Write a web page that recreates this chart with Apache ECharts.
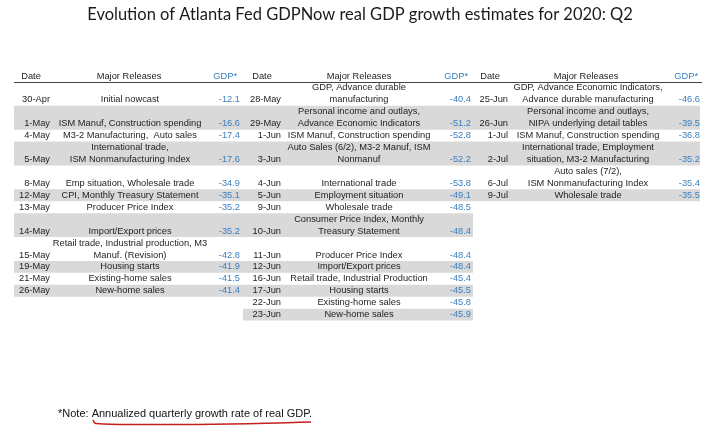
<!DOCTYPE html>
<html><head><meta charset="utf-8">
<script src="https://cdn.jsdelivr.net/npm/echarts@6/dist/echarts.min.js"></script>
<style>html,body{margin:0;padding:0;background:#fff}#c{width:720px;height:428px}</style>
</head><body><div id="c"></div>
<script>
const titleText = 'Evolution of Atlanta Fed GDPNow real GDP growth estimates for 2020: Q2';
const headers = ['Date', 'Major Releases', 'GDP*'];
const rowLines = [2, 2, 1, 2, 2, 1, 1, 2, 2, 1, 1, 1, 1, 1];

const dates1 = ['30-Apr', '1-May', '4-May', '5-May', '8-May', '12-May', '13-May', '14-May', '15-May', '19-May', '21-May', '26-May'];
const releases1 = [['', 'Initial nowcast'], ['', 'ISM Manuf, Construction spending'], ['M3-2 Manufacturing,  Auto sales'], ['International trade,', 'ISM Nonmanufacturing Index'], ['', 'Emp situation, Wholesale trade'], ['CPI, Monthly Treasury Statement'], ['Producer Price Index'], ['', 'Import/Export prices'], ['Retail trade, Industrial production, M3', 'Manuf. (Revision)'], ['Housing starts'], ['Existing-home sales'], ['New-home sales']];
const gdp1 = [-12.1, -16.6, -17.4, -17.6, -34.9, -35.1, -35.2, -35.2, -42.8, -41.9, -41.5, -41.4];

const dates2 = ['28-May', '29-May', '1-Jun', '3-Jun', '4-Jun', '5-Jun', '9-Jun', '10-Jun', '11-Jun', '12-Jun', '16-Jun', '17-Jun', '22-Jun', '23-Jun'];
const releases2 = [['GDP, Advance durable', 'manufacturing'], ['Personal income and outlays,', 'Advance Economic Indicators'], ['ISM Manuf, Construction spending'], ['Auto Sales (6/2), M3-2 Manuf, ISM', 'Nonmanuf'], ['', 'International trade'], ['Employment situation'], ['Wholesale trade'], ['Consumer Price Index, Monthly', 'Treasury Statement'], ['', 'Producer Price Index'], ['Import/Export prices'], ['Retail trade, Industrial Production'], ['Housing starts'], ['Existing-home sales'], ['New-home sales']];
const gdp2 = [-40.4, -51.2, -52.8, -52.2, -53.8, -49.1, -48.5, -48.4, -48.4, -48.4, -45.4, -45.5, -45.8, -45.9];

const dates3 = ['25-Jun', '26-Jun', '1-Jul', '2-Jul', '6-Jul', '9-Jul'];
const releases3 = [['GDP, Advance Economic Indicators,', 'Advance durable manufacturing'], ['Personal income and outlays,', 'NIPA underlying detail tables'], ['ISM Manuf, Construction spending'], ['International trade, Employment', 'situation, M3-2 Manufacturing'], ['Auto sales (7/2),', 'ISM Nonmanufacturing Index'], ['Wholesale trade']];
const gdp3 = [-46.6, -39.5, -36.8, -35.2, -35.4, -35.5];

const noteText = '*Note: Annualized quarterly growth rate of real GDP.';

// ---- layout (kept separate from data) ----
const cols = [
  { dates: dates1, rel: releases1, gdp: gdp1, left: 14, right: 243, dateX: 50, relX: 130, gdpX: 240, hDate: 31, hRel: 129, hGdp: 237 },
  { dates: dates2, rel: releases2, gdp: gdp2, left: 243, right: 473, dateX: 281, relX: 359, gdpX: 471, hDate: 262, hRel: 359, hGdp: 468 },
  { dates: dates3, rel: releases3, gdp: gdp3, left: 473, right: 700, dateX: 508, relX: 588, gdpX: 700, hDate: 490, hRel: 586, hGdp: 698 }
];
const rowStart = [];
rowLines.reduce((acc, n, i) => { rowStart[i] = acc; return acc + n; }, 0);

const FONT = "'Liberation Sans', Arial, sans-serif";
const FS = 9.3;
const TXT = '#1e1e1e';
const BLUE = '#3a7fc1';
const GRAY = '#d9d9d9';

const cellData = [];
cols.forEach((c, ci) => c.dates.forEach((d, ri) => cellData.push([ci, ri])));

function txt(x, y, s, align, fill) {
  return { type: 'text', style: { x, y, text: s, align, verticalAlign: 'middle', fontSize: FS, fontFamily: FONT, fill } };
}

const chart = echarts.init(document.getElementById('c'), null, { renderer: 'canvas' });
chart.setOption({
  backgroundColor: '#fff',
  animation: false,
  title: {
    text: titleText, left: 'center', top: 1,
    textStyle: { fontFamily: "Lato, 'Open Sans', sans-serif", fontWeight: 'normal', fontSize: 16.5, color: '#1a1a1a' }
  },
  grid: { left: 0, right: 0, top: 70, height: 360 },
  xAxis: { type: 'value', min: 0, max: 720, show: false },
  yAxis: { type: 'value', min: -1, max: 29, inverse: true, show: false },
  series: [
    {
      type: 'custom', coordinateSystem: 'cartesian2d', silent: true,
      data: cellData,
      renderItem: function (params, api) {
        const ci = api.value(0), ri = api.value(1);
        const c = cols[ci];
        const s = rowStart[ri], n = rowLines[ri];
        const children = [];
        if (ri % 2 === 1) {
          const p0 = api.coord([c.left, s]), p1 = api.coord([c.right, s + n]);
          children.push({ type: 'rect', shape: { x: p0[0], y: p0[1], width: p1[0] - p0[0], height: p1[1] - p0[1] }, style: { fill: GRAY } });
        }
        const yb = api.coord([0, s + n - 0.5])[1];
        const yt = api.coord([0, s + 0.5])[1];
        children.push(txt(api.coord([c.dateX, 0])[0], yb, c.dates[ri], 'right', TXT));
        const r = c.rel[ri];
        if (r.length === 2) {
          if (r[0]) children.push(txt(api.coord([c.relX, 0])[0], yt, r[0], 'center', TXT));
          children.push(txt(api.coord([c.relX, 0])[0], yb, r[1], 'center', TXT));
        } else {
          children.push(txt(api.coord([c.relX, 0])[0], yb, r[0], 'center', TXT));
        }
        children.push(txt(api.coord([c.gdpX, 0])[0], yb, c.gdp[ri].toFixed(1), 'right', BLUE));
        return { type: 'group', children };
      }
    },
    {
      type: 'custom', coordinateSystem: 'cartesian2d', silent: true,
      data: [[0], [1], [2]],
      renderItem: function (params, api) {
        const ci = api.value(0);
        const c = cols[ci];
        const y = api.coord([0, -0.45])[1];
        const children = [
          txt(api.coord([c.hDate, 0])[0], y, headers[0], 'center', TXT),
          txt(api.coord([c.hRel, 0])[0], y, headers[1], 'center', TXT),
          txt(api.coord([c.hGdp, 0])[0], y, headers[2], 'right', BLUE)
        ];
        const a = api.coord([c.left, 0]), b = api.coord([c.right + (ci === 2 ? 2 : 0), 0]);
        children.push({ type: 'line', shape: { x1: a[0], y1: Math.round(a[1]) + 0.5, x2: b[0], y2: Math.round(b[1]) + 0.5 }, style: { stroke: '#444', lineWidth: 1 } });
        return { type: 'group', children };
      }
    }
  ],
  graphic: [
    { type: 'text', left: 58, top: 408, style: { text: noteText, fontSize: 11, fontFamily: FONT, fill: '#111' } },
    { type: 'polyline', shape: { points: [[93, 420], [96, 423.5], [150, 424.5], [230, 424], [311, 422]], smooth: 0.4 }, style: { stroke: '#c42020', lineWidth: 1.4, fill: null } }
  ]
});
</script>
</body></html>
